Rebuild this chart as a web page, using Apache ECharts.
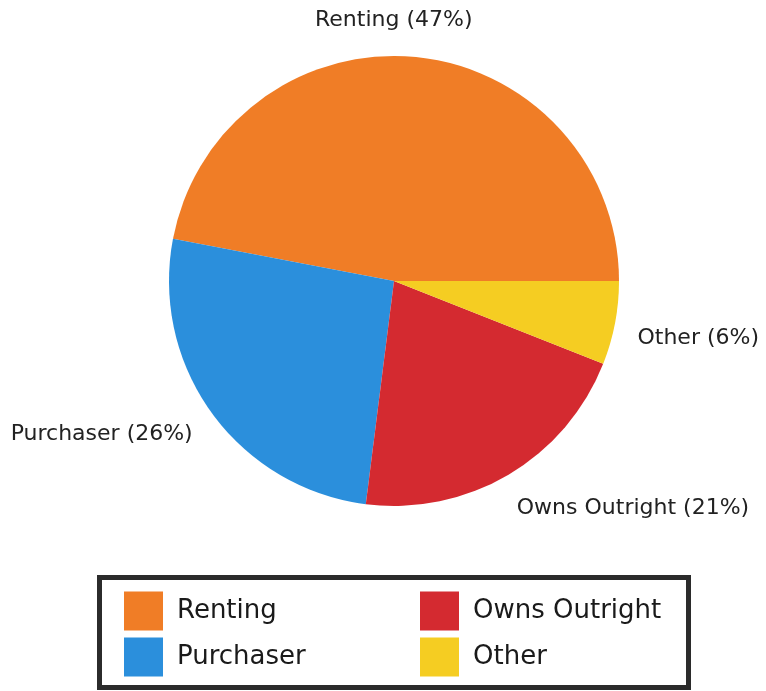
<!DOCTYPE html>
<html><head><meta charset="utf-8">
<script src="https://cdn.jsdelivr.net/npm/echarts@6/dist/echarts.min.js"></script>
<style>html,body{margin:0;padding:0;background:#fff}#c{width:766px;height:691px}</style>
</head><body><div id="c"></div>
<script>
// Data
const categories = ['Renting', 'Purchaser', 'Owns Outright', 'Other'];
const shares = [47, 26, 21, 6];
const colors = ['#F07D26', '#2B8FDC', '#D42A30', '#F5CD22'];
const legendColumn1 = ['Renting', 'Purchaser'];
const legendColumn2 = ['Owns Outright', 'Other'];
// label nudges relative to default outside placement [dx, dy]
const labelNudge = [[-108, -7], [10, 3], [-12, 8], [-12, 9]];

const chart = echarts.init(document.getElementById('c'), null, {renderer: 'canvas'});
const font = 'DejaVu Sans';
const legendBase = {
  orient: 'vertical',
  top: 591.5,
  padding: 0,
  itemWidth: 39, itemHeight: 39, itemGap: 7,
  icon: 'rect',
  selectedMode: false,
  textStyle: {fontFamily: font, fontSize: 26, color: '#1a1a1a', padding: [0, 0, 0, 9]}
};
chart.setOption({
  animation: false,
  backgroundColor: '#fff',
  graphic: [{
    type: 'rect', z: -1,
    shape: {x: 99.5, y: 577.5, width: 589, height: 110},
    style: {fill: '#fff', stroke: '#2b2b2b', lineWidth: 5}
  }],
  legend: [
    Object.assign({left: 124, data: legendColumn1}, legendBase),
    Object.assign({left: 420, data: legendColumn2}, legendBase)
  ],
  series: [{
    type: 'pie',
    radius: 225,
    center: [394, 281],
    clockwise: false,
    startAngle: 0,
    avoidLabelOverlap: false,
    emphasis: {disabled: true},
    data: categories.map((n, i) => ({name: n, value: shares[i], itemStyle: {color: colors[i]}})),
    label: {
      show: true, position: 'outside', formatter: '{b} ({c}%)',
      fontFamily: font, fontSize: 22, color: '#222', distanceToLabelLine: 5
    },
    labelLine: {show: false, length: 30, length2: 0},
    labelLayout: p => ({dx: labelNudge[p.dataIndex][0], dy: labelNudge[p.dataIndex][1]})
  }]
});
</script></body></html>
